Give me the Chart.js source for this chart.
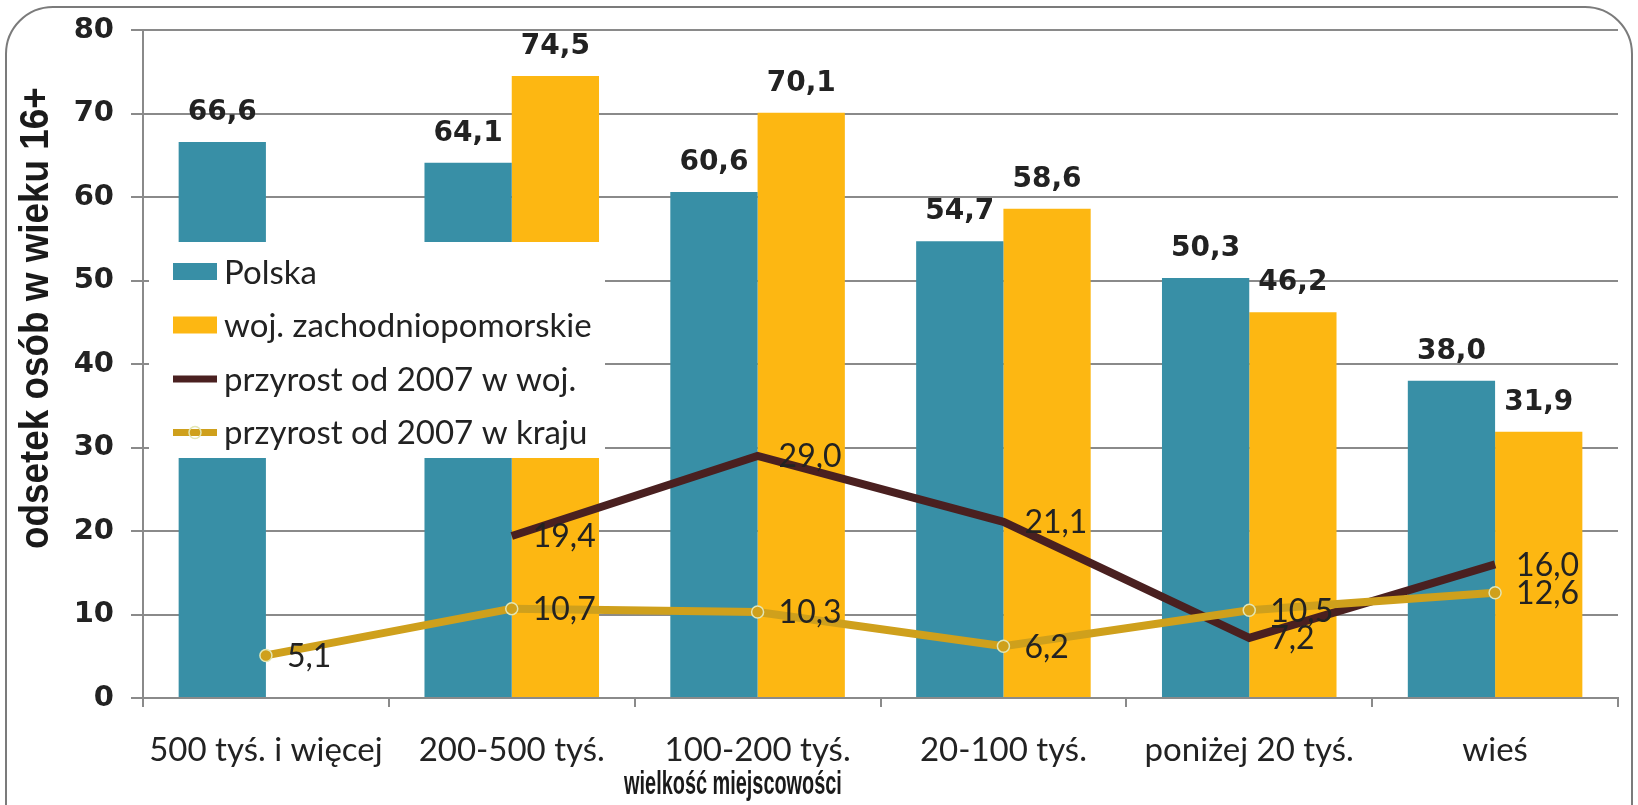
<!DOCTYPE html>
<html>
<head>
<meta charset="utf-8">
<script src="https://cdn.jsdelivr.net/npm/chart.js@4.4.0/dist/chart.umd.min.js"></script>
<style>
    html, body { margin: 0; padding: 0; background: #fff; overflow: hidden; }
    #wrap { position: relative; width: 1638px; height: 805px; }
    #frame { position: absolute; left: 5px; top: 6px; width: 1624px; height: 900px;
        border: 2px solid #7b7b7b; border-radius: 48px; }
    #chart { position: absolute; left: 0; top: 0; }
</style>
</head>
<body>
<div id="wrap">
    <div id="frame"></div>
    <canvas id="chart" width="1638" height="805"></canvas>
</div>
<script>
// categories along the x axis
const categories = ["500 tyś. i więcej", "200-500 tyś.", "100-200 tyś.", "20-100 tyś.",
    "poniżej 20 tyś.", "wieś"];

// bars
const polska = [66.6, 64.1, 60.6, 54.7, 50.3, 38.0];
const zachodniopomorskie = [null, 74.5, 70.1, 58.6, 46.2, 31.9];

// lines
const przyrostWoj = [null, 19.4, 29.0, 21.1, 7.2, 16.0];
const przyrostKraj = [5.1, 10.7, 10.3, 6.2, 10.5, 12.6];

const yMin = 0;
const yMax = 80;
const yStep = 10;

const gridColor = '#8a8a8a';
const labelFont = 'Lato, "Open Sans", sans-serif';

const fmt = v => v.toFixed(1).replace('.', ',');

//white legend box sitting inside the plot, over the bars
const boxLegend = {
    id: 'boxLegend',
    afterDatasetsDraw(chart) {
        const { ctx, chartArea } = chart;
        const left = chartArea.left + 6;
        const top = chartArea.top + 212;
        ctx.save();
        ctx.fillStyle = '#fff';
        ctx.fillRect(left, top, 456, 216);
        chart.data.datasets.forEach((ds, i) => {
            const cy = top + 30 + i * 53.5;
            const sx = left + 24;
            if (ds.type === 'line') {
                ctx.strokeStyle = ds.borderColor;
                ctx.lineWidth = 7;
                ctx.beginPath();
                ctx.moveTo(sx, cy);
                ctx.lineTo(sx + 44, cy);
                ctx.stroke();
                if (ds.pointRadius) {
                    ctx.lineWidth = ds.pointBorderWidth;
                    ctx.strokeStyle = ds.pointBorderColor;
                    ctx.beginPath();
                    ctx.arc(sx + 22, cy, ds.pointRadius, 0, Math.PI * 2);
                    ctx.stroke();
                }
            } else {
                ctx.fillStyle = ds.backgroundColor;
                ctx.fillRect(sx, cy - 9, 44, 17);
            }
            ctx.fillStyle = '#222';
            ctx.font = '33px ' + labelFont;
            ctx.textAlign = 'left';
            ctx.textBaseline = 'middle';
            ctx.fillText(ds.label, sx + 51, cy + 1);
        });
        ctx.restore();
    }
};

//value labels: bold above the bars, plain to the right of line points
const valueLabels = {
    id: 'valueLabels',
    afterDatasetsDraw(chart) {
        const ctx = chart.ctx;
        chart.data.datasets.forEach((ds, i) => {
            const meta = chart.getDatasetMeta(i);
            meta.data.forEach((el, j) => {
                const v = ds.data[j];
                if (v === null) return;
                ctx.save();
                ctx.fillStyle = '#222';
                if (ds.type === 'line') {
                    ctx.font = '32px ' + labelFont;
                    ctx.textAlign = 'left';
                    ctx.textBaseline = 'middle';
                    ctx.fillText(fmt(v), el.x + 21, el.y + 1);
                } else {
                    ctx.font = 'bold 28px "DejaVu Sans"';
                    ctx.textAlign = 'center';
                    ctx.textBaseline = 'alphabetic';
                    ctx.fillText(fmt(v), el.x, el.y - 22);
                }
                ctx.restore();
            });
        });
    }
};

//axis titles, placed off-centre like in the original
const axisTitles = {
    id: 'axisTitles',
    afterDraw(chart) {
        const { ctx, scales } = chart;
        ctx.save();
        ctx.fillStyle = '#1a1a1a';
        ctx.textAlign = 'center';
        ctx.textBaseline = 'middle';
        ctx.translate(37, scales.y.getPixelForValue(45.5));
        ctx.rotate(-Math.PI / 2);
        ctx.scale(0.97, 1.05);
        ctx.font = 'bold 38px "Liberation Sans", Arial, sans-serif';
        ctx.fillText('odsetek osób w wieku 16+', 0, 0);
        ctx.restore();

        // condensed bold, squeezed sideways
        ctx.save();
        ctx.fillStyle = '#1a1a1a';
        ctx.textAlign = 'center';
        ctx.textBaseline = 'middle';
        ctx.translate(scales.x.getPixelForValue(1.9), 785);
        ctx.scale(0.585, 1);
        ctx.font = 'bold 34px "Liberation Sans", Arial, sans-serif';
        ctx.fillText('wielkość miejscowości', 0, 0);
        ctx.restore();
    }
};

const chartData = {
    labels: categories,
    datasets: [{
        type: 'bar',
        label: 'Polska',
        data: polska,
        backgroundColor: '#388FA6',
        categoryPercentage: 0.71,
        barPercentage: 1.0,
        order: 2
    }, {
        type: 'bar',
        label: 'woj. zachodniopomorskie',
        data: zachodniopomorskie,
        backgroundColor: '#FDB712',
        categoryPercentage: 0.71,
        barPercentage: 1.0,
        order: 2
    }, {
        type: 'line',
        label: 'przyrost od 2007 w woj.',
        data: przyrostWoj,
        borderColor: '#4A2020',
        borderWidth: 8,
        pointRadius: 0,
        tension: 0,
        order: 1
    }, {
        type: 'line',
        label: 'przyrost od 2007 w kraju',
        data: przyrostKraj,
        borderColor: '#CFA01C',
        borderWidth: 8,
        pointRadius: 6,
        pointBorderWidth: 1.5,
        pointBorderColor: '#e3e6b4',
        pointBackgroundColor: '#CFA01C',
        tension: 0,
        order: 0
    }]
};

const chart = new Chart(document.getElementById('chart').getContext('2d'), {
    type: 'bar',
    data: chartData,
    options: {
        responsive: false,
        animation: false,
        layout: {
            padding: { left: 8, right: 20, top: 30, bottom: 0 }
        },
        scales: {
            x: {
                grid: {
                    offset: true,
                    drawOnChartArea: false,
                    drawTicks: true,
                    tickLength: 9,
                    color: gridColor,
                    lineWidth: 2
                },
                border: { color: gridColor, width: 2 },
                ticks: {
                    font: { family: labelFont, size: 33 },
                    color: '#222',
                    padding: 24,
                    maxRotation: 0
                },
                afterFit: s => { s.height = 107; }
            },
            y: {
                min: yMin,
                max: yMax,
                ticks: {
                    stepSize: yStep,
                    font: { family: '"DejaVu Sans"', weight: 'bold', size: 29 },
                    color: '#222',
                    padding: 17
                },
                grid: { color: gridColor, lineWidth: 2, tickLength: 12 },
                border: { color: gridColor, width: 2 },
                //fixed width, and no extra room for the top tick label
                afterFit: s => {
                    s.width = 135;
                    s.paddingTop = 0;
                    s.paddingBottom = 0;
                }
            }
        },
        plugins: {
            legend: { display: false },
            tooltip: { enabled: false }
        }
    },
    plugins: [boxLegend, valueLabels, axisTitles]
});
</script>
</body>
</html>
